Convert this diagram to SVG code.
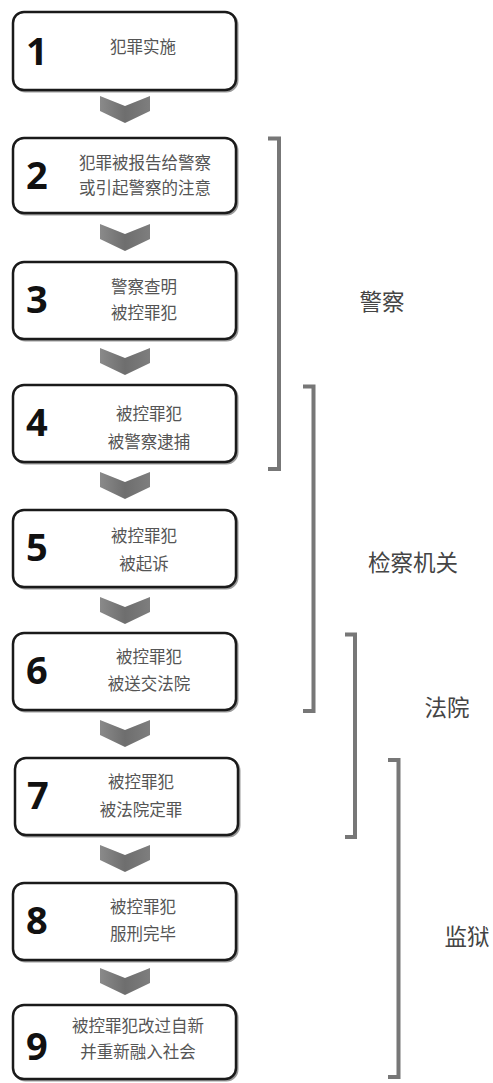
<svg xmlns="http://www.w3.org/2000/svg" width="493" height="1083" viewBox="0 0 493 1083">
<defs>
<style>
.box{fill:#fff;stroke:#1a1a1a;stroke-width:2.5}
.shadow{fill:none;stroke:#9a9a9a;stroke-width:2}
.num{font-family:"Open Sans","DejaVu Sans",sans-serif;font-weight:700;font-size:38px;fill:#111}
.t{font-family:"Noto Sans CJK SC",sans-serif;font-size:16.5px;fill:#555;text-anchor:middle}
.lab{font-family:"Noto Sans CJK SC",sans-serif;font-size:22.5px;fill:#444;text-anchor:middle}
.chev{fill:url(#cg)}
.br{fill:none;stroke:#777;stroke-width:4}
</style>
<linearGradient id="cg" x1="0" y1="0" x2="1" y2="0">
<stop offset="0" stop-color="#8a8a8a"/>
<stop offset="0.5" stop-color="#6e6e6e"/>
<stop offset="1" stop-color="#7e7e7e"/>
</linearGradient>
<polygon id="chv" class="chev" points="100,0 125,10 150,0 150,15 125,27 100,15"/>
</defs>
<rect width="493" height="1083" fill="#fff"/>
<g id="connectors">
<use href="#chv" y="96"/>
<use href="#chv" y="224"/>
<use href="#chv" y="348"/>
<use href="#chv" y="472"/>
<use href="#chv" y="597"/>
<use href="#chv" y="720"/>
<use href="#chv" y="845"/>
<use href="#chv" y="968"/>
</g>
<g id="node1"><rect class="shadow" x="14.5" y="13.5" width="223" height="78" rx="11"/><rect class="box" x="13" y="12" width="223" height="78" rx="11"/><text class="num" x="26" y="65">1</text><text class="t" x="143" y="53">犯罪实施</text></g>
<g id="node2"><rect class="shadow" x="14.5" y="139.5" width="223" height="75" rx="11"/><rect class="box" x="13" y="138" width="223" height="75" rx="11"/><text class="num" x="26" y="189">2</text><text class="t" x="145" y="169">犯罪被报告给警察</text><text class="t" x="145" y="194">或引起警察的注意</text></g>
<g id="node3"><rect class="shadow" x="14.5" y="263.5" width="223" height="77" rx="11"/><rect class="box" x="13" y="262" width="223" height="77" rx="11"/><text class="num" x="26" y="313">3</text><text class="t" x="144" y="293">警察查明</text><text class="t" x="144" y="319">被控罪犯</text></g>
<g id="node4"><rect class="shadow" x="14.5" y="386.5" width="223" height="77" rx="11"/><rect class="box" x="13" y="385" width="223" height="77" rx="11"/><text class="num" x="26" y="436">4</text><text class="t" x="149" y="420">被控罪犯</text><text class="t" x="149" y="448">被警察逮捕</text></g>
<g id="node5"><rect class="shadow" x="14.5" y="511.5" width="223" height="77" rx="11"/><rect class="box" x="13" y="510" width="223" height="77" rx="11"/><text class="num" x="26" y="561">5</text><text class="t" x="144" y="542">被控罪犯</text><text class="t" x="144" y="570">被起诉</text></g>
<g id="node6"><rect class="shadow" x="14.5" y="634.5" width="223" height="77" rx="11"/><rect class="box" x="13" y="633" width="223" height="77" rx="11"/><text class="num" x="26" y="684">6</text><text class="t" x="149" y="663">被控罪犯</text><text class="t" x="149" y="690">被送交法院</text></g>
<g id="node7"><rect class="shadow" x="16.5" y="759.5" width="223" height="77" rx="11"/><rect class="box" x="15" y="758" width="223" height="77" rx="11"/><text class="num" x="27" y="809">7</text><text class="t" x="141" y="788">被控罪犯</text><text class="t" x="141" y="816">被法院定罪</text></g>
<g id="node8"><rect class="shadow" x="14.5" y="884.5" width="223" height="77" rx="11"/><rect class="box" x="13" y="883" width="223" height="77" rx="11"/><text class="num" x="26" y="934">8</text><text class="t" x="143" y="913">被控罪犯</text><text class="t" x="143" y="940">服刑完毕</text></g>
<g id="node9"><rect class="shadow" x="14.5" y="1006.5" width="223" height="74" rx="11"/><rect class="box" x="13" y="1005" width="223" height="74" rx="11"/><text class="num" x="26" y="1060">9</text><text class="t" x="138" y="1032">被控罪犯改过自新</text><text class="t" x="138" y="1058">并重新融入社会</text></g>
<g id="brackets">
<path class="br" d="M268,138.5 H279 V469 H268"/>
<path class="br" d="M303,386.5 H313.5 V711 H303"/>
<path class="br" d="M345,634.5 H355 V837 H345"/>
<path class="br" d="M388,760 H398.5 V1077 H388"/>
</g>
<g id="labels">
<text class="lab" x="382" y="310">警察</text>
<text class="lab" x="413" y="571">检察机关</text>
<text class="lab" x="447" y="716">法院</text>
<text class="lab" x="467" y="945">监狱</text>
</g>
</svg>
